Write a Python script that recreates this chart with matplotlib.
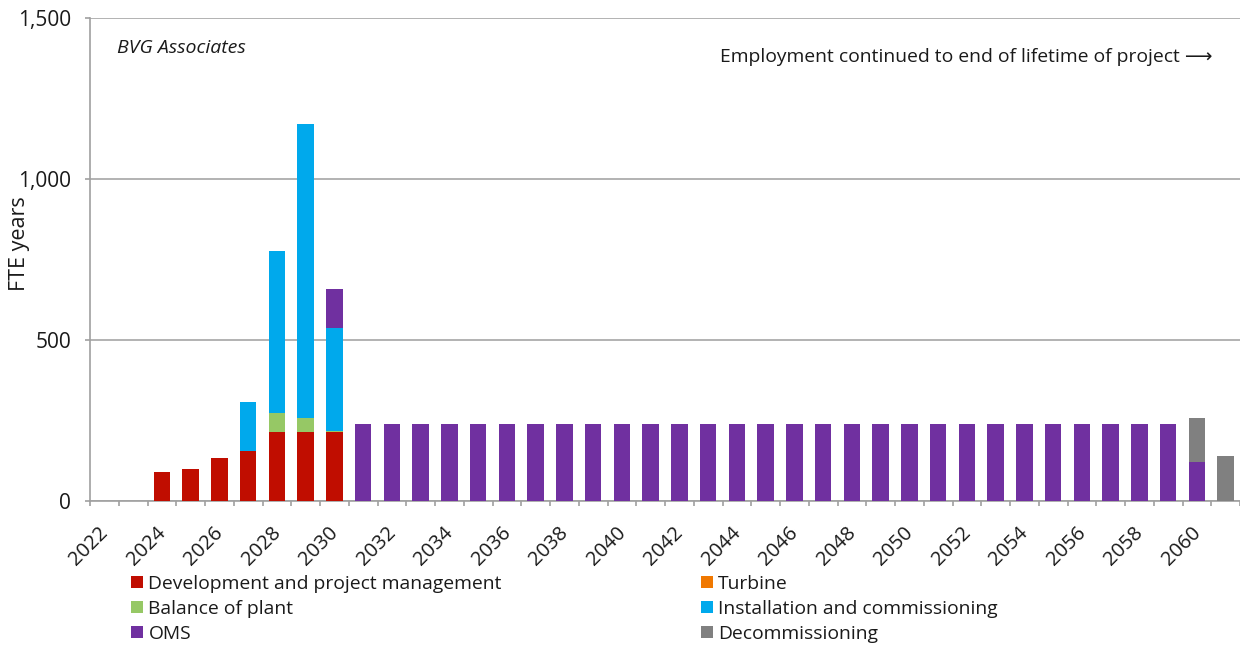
import matplotlib
matplotlib.use("Agg")
import matplotlib.pyplot as plt
import matplotlib.transforms as mtransforms
import numpy as np
from matplotlib.patches import Patch

plt.rcParams['font.family'] = ['Open Sans', 'DejaVu Sans']

years = list(range(2022, 2062))

development = [0, 0, 90, 100, 135, 156, 213, 213, 213, 0,
               0, 0, 0, 0, 0, 0, 0, 0, 0, 0,
               0, 0, 0, 0, 0, 0, 0, 0, 0, 0,
               0, 0, 0, 0, 0, 0, 0, 0, 0, 0]
turbine = [0, 0, 0, 0, 0, 0, 0, 0, 0, 0,
           0, 0, 0, 0, 0, 0, 0, 0, 0, 0,
           0, 0, 0, 0, 0, 0, 0, 0, 0, 0,
           0, 0, 0, 0, 0, 0, 0, 0, 0, 0]
balance_of_plant = [0, 0, 0, 0, 0, 0, 61, 45, 4, 0,
                    0, 0, 0, 0, 0, 0, 0, 0, 0, 0,
                    0, 0, 0, 0, 0, 0, 0, 0, 0, 0,
                    0, 0, 0, 0, 0, 0, 0, 0, 0, 0]
installation = [0, 0, 0, 0, 0, 153, 502, 913, 321, 0,
                0, 0, 0, 0, 0, 0, 0, 0, 0, 0,
                0, 0, 0, 0, 0, 0, 0, 0, 0, 0,
                0, 0, 0, 0, 0, 0, 0, 0, 0, 0]
oms = [0, 0, 0, 0, 0, 0, 0, 0, 121, 240,
       240, 240, 240, 240, 240, 240, 240, 240, 240, 240,
       240, 240, 240, 240, 240, 240, 240, 240, 240, 240,
       240, 240, 240, 240, 240, 240, 240, 240, 120, 0]
decommissioning = [0, 0, 0, 0, 0, 0, 0, 0, 0, 0,
                   0, 0, 0, 0, 0, 0, 0, 0, 0, 0,
                   0, 0, 0, 0, 0, 0, 0, 0, 0, 0,
                   0, 0, 0, 0, 0, 0, 0, 0, 139, 140]

series = [
    ("Development and project management", development, "#C00D00"),
    ("Turbine", turbine, "#F07800"),
    ("Balance of plant", balance_of_plant, "#96C865"),
    ("Installation and commissioning", installation, "#00A9EC"),
    ("OMS", oms, "#7030A0"),
    ("Decommissioning", decommissioning, "#808080"),
]

TXT = '#1a1a1a'
NOTEFS = 13.9  # legend and notes

fig = plt.figure(figsize=(12.4, 6.49), dpi=100)
ax = fig.add_axes([90 / 1240, 148 / 649, 1150 / 1240, 483 / 649])

x = np.arange(len(years))
bottom = np.zeros(len(years))
handles = {}
for name, vals, color in series:
    v = np.array(vals, dtype=float)
    ax.bar(x, v, width=0.57, bottom=bottom, color=color,
           linewidth=0, zorder=3)
    bottom += v
    handles[name] = Patch(facecolor=color, edgecolor='none')

ax.set_xlim(-0.5, len(years) - 0.5)
ax.set_ylim(0, 1500)
ax.set_yticks([0, 500, 1000, 1500])
ax.set_yticklabels(["0", "500", "1,000", "1,500"])
ax.yaxis.grid(True, color="#A6A6A6", linewidth=1.2, zorder=0)
ax.set_axisbelow(True)

# category boundary ticks, labels every second year
ax.set_xticks(x[::2])
ax.set_xticklabels([str(y) for y in years[::2]], rotation=45, ha='right',
                   va='top', rotation_mode='anchor')
ax.set_xticks(np.arange(len(years) + 1) - 0.5, minor=True)
ax.tick_params(axis='x', which='major', length=0, pad=15.5, labelsize=14.5,
               labelcolor=TXT)
ax.tick_params(axis='x', which='minor', length=3.6, width=1.2, color='#A0A0A0')
ax.tick_params(axis='y', length=3.6, width=1.2, color='#A0A0A0', pad=10,
               labelsize=15, labelcolor=TXT)
shift = mtransforms.ScaledTranslation(-6 / 100, 0, fig.dpi_scale_trans)
for lbl in ax.get_xticklabels():
    lbl.set_transform(lbl.get_transform() + shift)

for s in ['top', 'right']:
    ax.spines[s].set_visible(False)
for s in ['left', 'bottom']:
    ax.spines[s].set_color('#A0A0A0')
    ax.spines[s].set_linewidth(1.2)

ax.set_ylabel("FTE years", fontsize=15.5, color=TXT)
ax.yaxis.set_label_coords(-0.052, 0.532)

ax.text(0.0235, 0.938, "BVG Associates", transform=ax.transAxes,
        fontsize=14, style='italic', va='center', ha='left', color=TXT)
ax.text(0.976, 0.919, "Employment continued to end of lifetime of project \u27f6",
        transform=ax.transAxes, fontsize=13.9, va='center', ha='right',
        color=TXT)

col1 = ["Development and project management", "Balance of plant", "OMS"]
col2 = ["Turbine", "Installation and commissioning", "Decommissioning"]
leg_kw = dict(frameon=False, fontsize=NOTEFS, handlelength=0.6,
              handleheight=0.6, handletextpad=0.3, labelspacing=0.36,
              borderpad=0, borderaxespad=0)
leg1 = fig.legend([handles[n] for n in col1], col1, loc='upper left',
                  bbox_to_anchor=(131 / 1240, 1 - 575 / 649), **leg_kw)
leg2 = fig.legend([handles[n] for n in col2], col2, loc='upper left',
                  bbox_to_anchor=(701 / 1240, 1 - 575 / 649), **leg_kw)
for leg in (leg1, leg2):
    for t in leg.get_texts():
        t.set_color(TXT)

fig.savefig("out.png", dpi=100)
